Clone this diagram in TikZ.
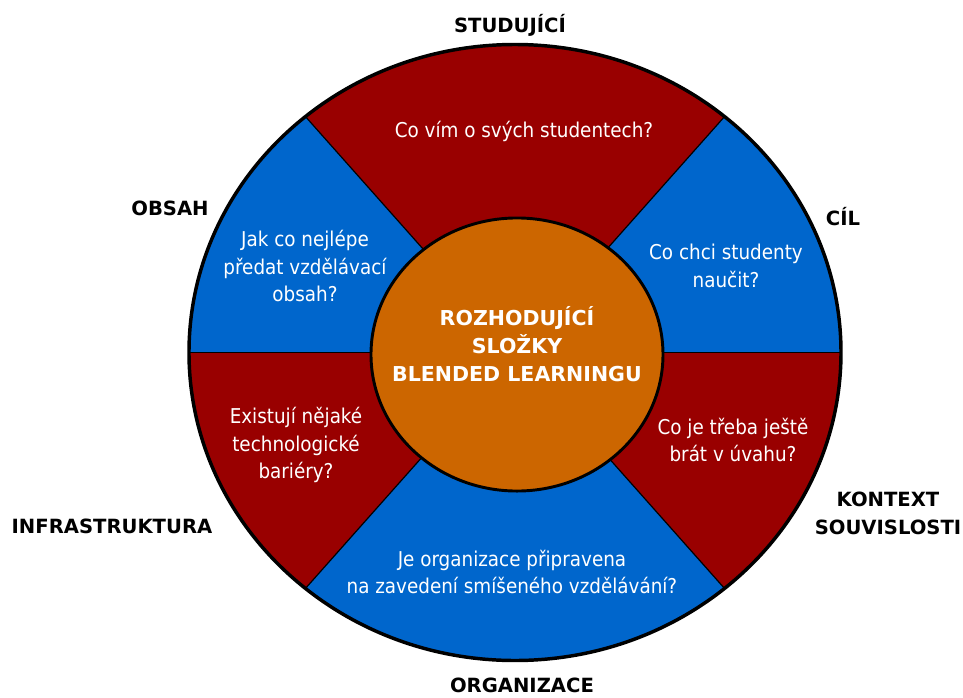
\documentclass[tikz,border=0pt]{standalone}
\usepackage{fontspec}
\setmainfont{DejaVu Sans}
\newfontfamily\qfont{DejaVu Sans Condensed}
\usetikzlibrary{shapes.geometric}
\definecolor{segred}{HTML}{990000}
\definecolor{segblue}{HTML}{0066CC}
\definecolor{hubfill}{HTML}{CC6600}
\begin{document}
\begin{tikzpicture}[x=0.75pt,y=0.75pt,
  qtext/.style={text=white, font=\qfont\fontsize{15.3pt}{20.5pt}\selectfont, align=center, inner sep=0pt},
  lbl/.style={text=black, font=\fontsize{14.7pt}{21pt}\selectfont\bfseries, align=center, inner sep=0pt},
  hubtext/.style={text=white, font=\fontsize{15.4pt}{21pt}\selectfont\bfseries, align=center, inner sep=0pt},
  divider/.style={draw=black, line width=0.9pt},
  rim/.style={draw=black, line width=2.6pt},
  arcs/.style={x radius=244.5pt, y radius=231pt}]
\useasboundingbox (-515,352.5) rectangle (448,-344.5);
% sectors
\fill[segred]  (0,0) -- (50:244.5pt and 231pt)  arc[start angle=50, end angle=130, arcs] -- cycle;
\fill[segblue] (0,0) -- (130:244.5pt and 231pt) arc[start angle=130,end angle=180, arcs] -- cycle;
\fill[segred]  (0,0) -- (180:244.5pt and 231pt) arc[start angle=180,end angle=230, arcs] -- cycle;
\fill[segblue] (0,0) -- (230:244.5pt and 231pt) arc[start angle=230,end angle=310, arcs] -- cycle;
\fill[segred]  (0,0) -- (310:244.5pt and 231pt) arc[start angle=310,end angle=360, arcs] -- cycle;
\fill[segblue] (0,0) -- (0:244.5pt and 231pt)   arc[start angle=0,  end angle=50,  arcs] -- cycle;
% dividers
\coordinate (c) at (0,0);
\coordinate (d50) at (50:244.5pt and 231pt);
\coordinate (d130) at (130:244.5pt and 231pt);
\coordinate (d180) at (180:244.5pt and 231pt);
\coordinate (d230) at (230:244.5pt and 231pt);
\coordinate (d310) at (310:244.5pt and 231pt);
\coordinate (d0) at (0:244.5pt and 231pt);
\draw[divider] (c) -- (d50);
\draw[divider] (c) -- (d130);
\draw[divider] (d180) -- (d0);
\draw[divider] (c) -- (d230);
\draw[divider] (c) -- (d310);
% outer rim
\draw[rim] (0,0) ellipse [arcs];
% hub
\node[ellipse, fill=hubfill, draw=black, line width=2.2pt, minimum width=219pt, minimum height=204.8pt, inner sep=0pt] (hub) at (2,-2) {};
\node[hubtext] (hubt) at (2,8.5) {ROZHODUJÍCÍ\\SLOŽKY\\BLENDED LEARNINGU};
% sector questions
\node[qtext] (q1) at (9,221.5) {Co vím o svých studentech?};
\node[qtext] (q2) at (-210,86.5) {Jak co nejlépe\\předat vzdělávací\\obsah?};
\node[qtext] (q3) at (211,86.5) {Co chci studenty\\naučit?};
\node[qtext] (q4) at (-219,-92.5) {Existují nějaké\\technologické\\bariéry?};
\node[qtext] (q5) at (218,-87.5) {Co je třeba ještě\\brát v úvahu?};
\node[qtext] (q6) at (-3,-219.5) {Je organizace připravena\\na zavedení smíšeného vzdělávání?};
% outer labels
\node[lbl] (l1) at (-5,327.5) {STUDUJÍCÍ};
\node[lbl] (l2) at (-345,144.5) {OBSAH};
\node[lbl] (l3) at (328,135.5) {CÍL};
\node[lbl] (l4) at (-403,-173.5) {INFRASTRUKTURA};
\node[lbl] (l5) at (373,-160.5) {KONTEXT\\SOUVISLOSTI};
\node[lbl] (l6) at (7,-332.5) {ORGANIZACE};
\end{tikzpicture}
\end{document}
